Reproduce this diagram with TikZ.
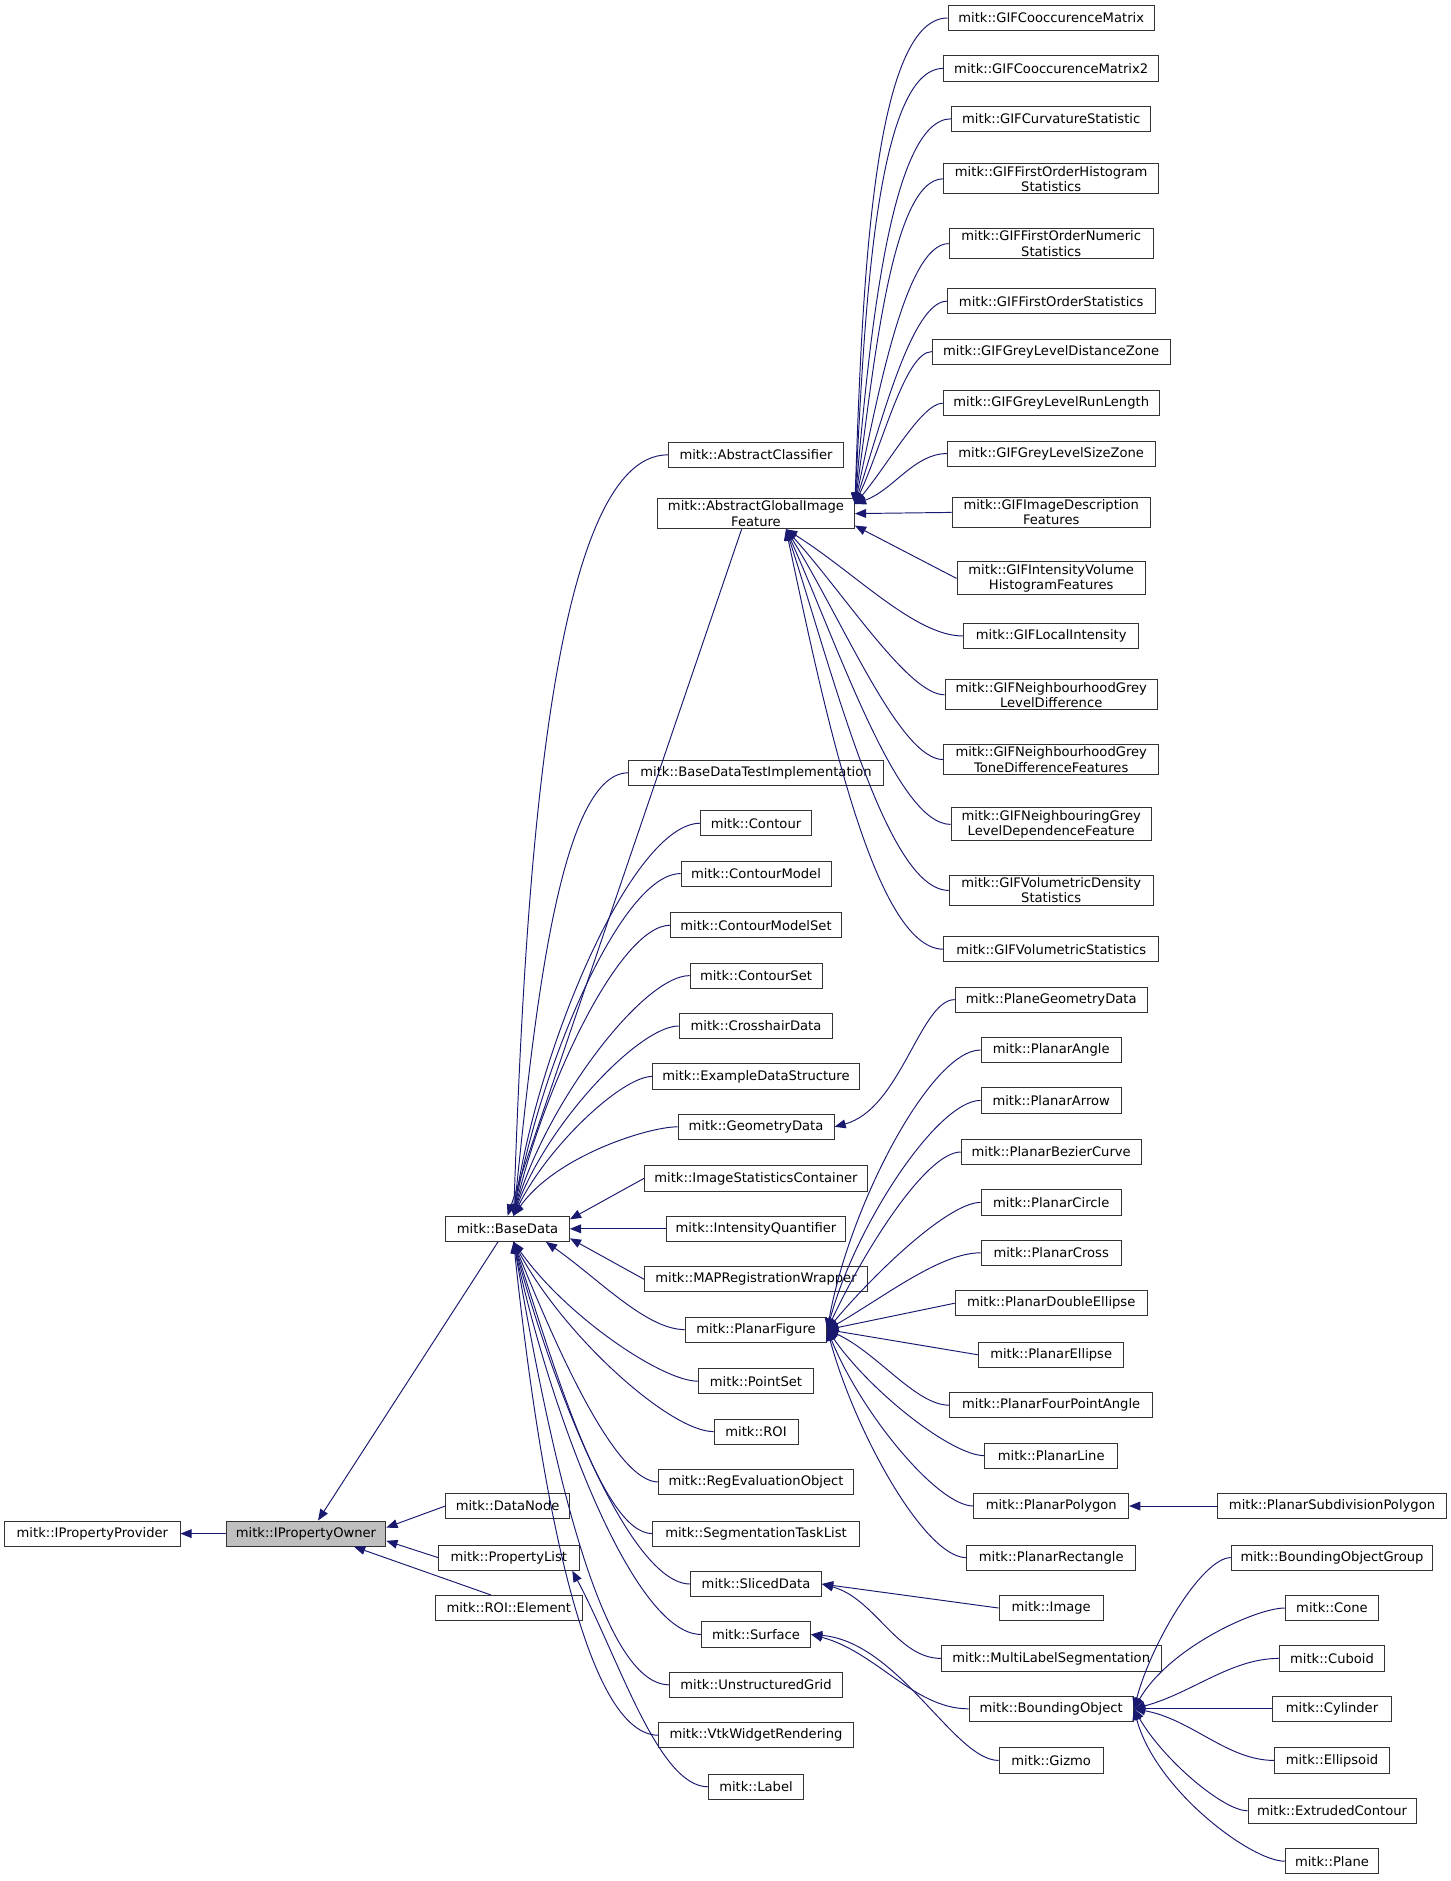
\documentclass[tikz,border=0pt]{standalone}
\usepackage{fontspec}
\setmainfont{DejaVu Sans}
\usetikzlibrary{calc,arrows.meta}
\definecolor{eblue}{HTML}{191970}
\tikzset{
 box/.style={draw=black!80,fill=white,line width=0.6pt,inner xsep=2pt,inner ysep=1.5pt,minimum height=15.75pt,align=center,font=\fontsize{8.2}{9.6}\selectfont},
 e/.style={draw=eblue,line width=0.6pt,{Triangle[length=7pt,width=5.5pt,fill=eblue]}-},
}
\newcommand\nd[5]{\node[box,minimum width=#4*0.75pt] (#1) at (#2,#3) {#5};}
\newcommand\ce[4][]{\draw[e] (#2) to[out=#4,in=180,in looseness=0.4,#1] (#3.west);}
\newcommand\se[2]{\draw[e] (#1) -- (#2.west);}
\begin{document}
\begin{tikzpicture}[x=0.75pt,y=-0.75pt]
\useasboundingbox (0,0) rectangle (1209,1567.5);
% left
\nd{ipp}{77}{1278}{146}{mitk::IPropertyProvider}
\node[box,fill=black!25,minimum width=133*0.75pt] (ipo) at (255,1278) {mitk::IPropertyOwner};
\nd{dn}{423}{1255}{103}{mitk::DataNode}
\nd{pl}{424}{1298}{117}{mitk::PropertyList}
\nd{roie}{424}{1340}{122}{mitk::ROI::Element}
\nd{bd}{423}{1024}{103}{mitk::BaseData}
% column 2
\nd{ac}{630}{379}{146}{mitk::AbstractClassifier}
\nd{agif}{630}{428}{164}{mitk::AbstractGlobalImage\\Feature}
\nd{bdti}{630}{644}{212}{mitk::BaseDataTestImplementation}
\nd{ctr}{630}{686}{92}{mitk::Contour}
\nd{cm}{630}{728}{125}{mitk::ContourModel}
\nd{cms}{630}{771}{142}{mitk::ContourModelSet}
\nd{cs}{630}{813}{110}{mitk::ContourSet}
\nd{chd}{630}{855}{128}{mitk::CrosshairData}
\nd{eds}{630}{897}{172}{mitk::ExampleDataStructure}
\nd{gd}{630}{939}{130}{mitk::GeometryData}
\nd{isc}{630}{982}{186}{mitk::ImageStatisticsContainer}
\nd{iq}{630}{1024}{149}{mitk::IntensityQuantifier}
\nd{mrw}{630}{1066}{186}{mitk::MAPRegistrationWrapper}
\nd{pf}{630}{1108}{118}{mitk::PlanarFigure}
\nd{ps}{630}{1151}{96}{mitk::PointSet}
\nd{roi}{630}{1193}{70}{mitk::ROI}
\nd{reo}{630}{1235}{162}{mitk::RegEvaluationObject}
\nd{stl}{630}{1278}{172}{mitk::SegmentationTaskList}
\nd{sd}{630}{1320}{109}{mitk::SlicedData}
\nd{srf}{630}{1362}{91}{mitk::Surface}
\nd{ug}{630}{1404}{144}{mitk::UnstructuredGrid}
\nd{vwr}{630}{1446}{162}{mitk::VtkWidgetRendering}
\nd{lab}{630}{1489}{79}{mitk::Label}
% column 3
\nd{g1}{876}{15}{172}{mitk::GIFCooccurenceMatrix}
\nd{g2}{876}{57}{179}{mitk::GIFCooccurenceMatrix2}
\nd{g3}{876}{99}{166}{mitk::GIFCurvatureStatistic}
\nd{g4}{876}{149}{179}{mitk::GIFFirstOrderHistogram\\Statistics}
\nd{g5}{876}{203}{170}{mitk::GIFFirstOrderNumeric\\Statistics}
\nd{g6}{876}{251}{173}{mitk::GIFFirstOrderStatistics}
\nd{g7}{876}{293}{198}{mitk::GIFGreyLevelDistanceZone}
\nd{g8}{876}{336}{180}{mitk::GIFGreyLevelRunLength}
\nd{g9}{876}{378}{173}{mitk::GIFGreyLevelSizeZone}
\nd{g10}{876}{427}{165}{mitk::GIFImageDescription\\Features}
\nd{g11}{876}{482}{157}{mitk::GIFIntensityVolume\\HistogramFeatures}
\nd{g12}{876}{530}{146}{mitk::GIFLocalIntensity}
\nd{g13}{876}{579}{177}{mitk::GIFNeighbourhoodGrey\\LevelDifference}
\nd{g14}{876}{633}{179}{mitk::GIFNeighbourhoodGrey\\ToneDifferenceFeatures}
\nd{g15}{876}{687}{167}{mitk::GIFNeighbouringGrey\\LevelDependenceFeature}
\nd{g16}{876}{742}{170}{mitk::GIFVolumetricDensity\\Statistics}
\nd{g17}{876}{791}{179}{mitk::GIFVolumetricStatistics}
\nd{pgd}{876}{833}{160}{mitk::PlaneGeometryData}
\nd{pan}{876}{875}{117}{mitk::PlanarAngle}
\nd{par}{876}{917}{117}{mitk::PlanarArrow}
\nd{pbc}{876}{960}{150}{mitk::PlanarBezierCurve}
\nd{pci}{876}{1002}{117}{mitk::PlanarCircle}
\nd{pcr}{876}{1044}{117}{mitk::PlanarCross}
\nd{pde}{876}{1086}{160}{mitk::PlanarDoubleEllipse}
\nd{pel}{876}{1129}{121}{mitk::PlanarEllipse}
\nd{pfpa}{876}{1171}{169}{mitk::PlanarFourPointAngle}
\nd{pli}{876}{1213}{111}{mitk::PlanarLine}
\nd{ppo}{876}{1255}{129}{mitk::PlanarPolygon}
\nd{pre}{876}{1298}{141}{mitk::PlanarRectangle}
\nd{img}{876}{1340}{87}{mitk::Image}
\nd{mls}{876}{1382}{183}{mitk::MultiLabelSegmentation}
\nd{bo}{876}{1424}{137}{mitk::BoundingObject}
\nd{giz}{876}{1467}{87}{mitk::Gizmo}
% column 4
\nd{psp}{1110}{1255}{191}{mitk::PlanarSubdivisionPolygon}
\nd{bog}{1110}{1298}{168}{mitk::BoundingObjectGroup}
\nd{cone}{1110}{1340}{78}{mitk::Cone}
\nd{cub}{1110}{1382}{88}{mitk::Cuboid}
\nd{cyl}{1110}{1424}{99}{mitk::Cylinder}
\nd{ell}{1110}{1467}{96}{mitk::Ellipsoid}
\nd{exc}{1110}{1509}{140}{mitk::ExtrudedContour}
\nd{pla}{1110}{1551}{78}{mitk::Plane}
% coordinates
\coordinate (bdA) at ($(bd.north)+(5,0)$);
\coordinate (bdB) at ($(bd.south)+(5,0)$);
\coordinate (agE) at ($(agif.east)+(0,-8)$);
\coordinate (agS) at ($(agif.south)+(25,0)$);
% left edges
\draw[e] (ipp.east) -- (ipo.west);
\draw[e] ($(ipo.east)+(0,-5)$) -- (dn.west);
\draw[e] ($(ipo.east)+(0,6)$) -- (pl.west);
\draw[e] ($(ipo.south)+(40,0)$) -- ($(roie.north)+(-15,0)$);
\draw[e] ($(ipo.north)+(10,0)$) -- ($(bd.south)+(-8,0)$);
\draw[e] ($(pl.south east)+(-6,0)$) to[out=-62,in=180,in looseness=0.5] (lab.west);
% BaseData children
\ce{bdA}{ac}{88}
\draw[e] ($(bd.north)+(0,0)$) -- ($(agif.south)+(-12,0)$);
\ce{bdA}{bdti}{84}
\ce{bdA}{ctr}{82}
\ce{bdA}{cm}{80}
\ce{bdA}{cms}{77}
\ce{bdA}{cs}{74}
\ce{bdA}{chd}{70}
\ce{bdA}{eds}{64}
\ce{bdA}{gd}{55}
\draw[e] ($(bd.north east)+(0,3)$) -- (isc.west);
\se{bd.east}{iq}
\draw[e] ($(bd.south east)+(0,-3)$) -- (mrw.west);
\ce[in looseness=0.6]{$(bd.south east)+(-20,0)$}{pf}{-35}
\ce{bdB}{ps}{-55}
\ce{bdB}{roi}{-62}
\ce{bdB}{reo}{-68}
\ce{bdB}{stl}{-72}
\ce{bdB}{sd}{-75}
\ce{bdB}{srf}{-78}
\ce{bdB}{ug}{-80}
\ce{bdB}{vwr}{-84}
% GIF children
\ce{agE}{g1}{88}
\ce{agE}{g2}{87}
\ce{agE}{g3}{85}
\ce{agE}{g4}{82}
\ce{agE}{g5}{78}
\ce{agE}{g6}{72}
\ce{agE}{g7}{65}
\ce{agE}{g8}{50}
\ce[in looseness=0.8]{agE}{g9}{20}
\se{agif.east}{g10}
\draw[e] ($(agif.east)+(0,10)$) -- (g11.west);
\ce[in looseness=0.6]{agS}{g12}{-32}
\ce{agS}{g13}{-48}
\ce{agS}{g14}{-58}
\ce{agS}{g15}{-66}
\ce{agS}{g16}{-72}
\ce{agS}{g17}{-78}
% GeometryData
\ce[in looseness=0.5]{gd.east}{pgd}{15}
% PlanarFigure
\ce{pf.east}{pan}{80}
\ce{pf.east}{par}{75}
\ce{pf.east}{pbc}{65}
\ce{pf.east}{pci}{50}
\ce[in looseness=0.6]{pf.east}{pcr}{30}
\se{pf.east}{pde}
\se{pf.east}{pel}
\ce[in looseness=0.6]{pf.east}{pfpa}{-25}
\ce{pf.east}{pli}{-55}
\ce{pf.east}{ppo}{-68}
\ce{pf.east}{pre}{-75}
\se{ppo.east}{psp}
% SlicedData, Surface
\se{sd.east}{img}
\ce[in looseness=0.8]{sd.east}{mls}{-15}
\ce[in looseness=0.8]{srf.east}{bo}{-15}
\ce[in looseness=0.5]{srf.east}{giz}{-5}
% BoundingObject
\ce{bo.east}{bog}{75}
\ce{bo.east}{cone}{60}
\ce[in looseness=0.8]{bo.east}{cub}{15}
\se{bo.east}{cyl}
\ce[in looseness=0.8]{bo.east}{ell}{-10}
\ce{bo.east}{exc}{-60}
\ce{bo.east}{pla}{-75}
\end{tikzpicture}
\end{document}
